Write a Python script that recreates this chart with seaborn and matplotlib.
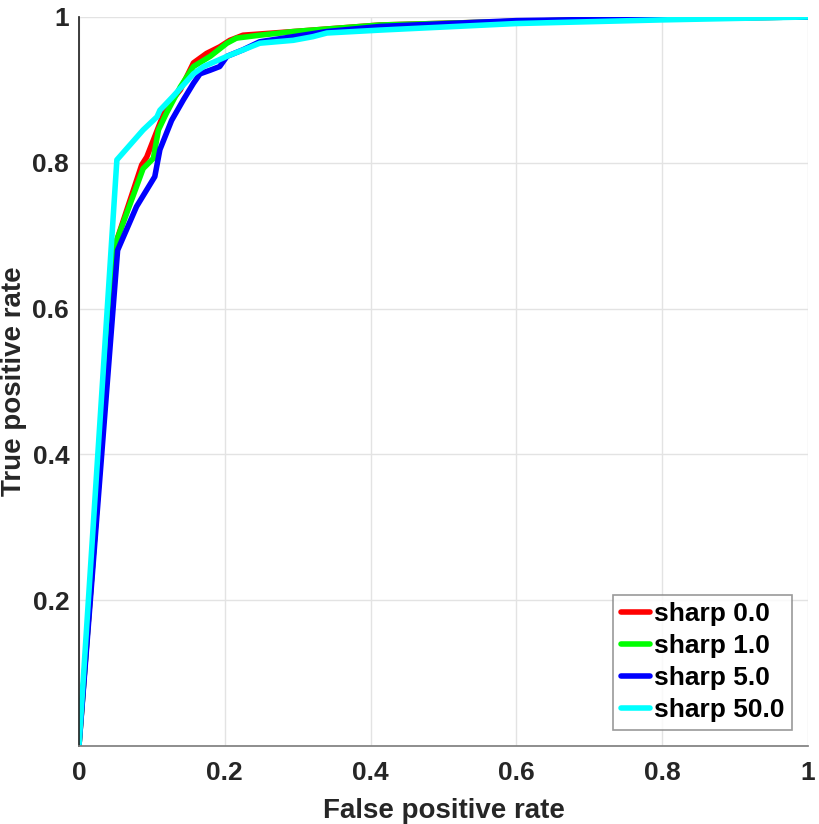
"""
ROC curves for different sharpness values
"""

import matplotlib
matplotlib.use("Agg")
import matplotlib.pyplot as plt
import pandas as pd
import seaborn as sns

# points
fpr_s0 = [0.0, 0.052, 0.086, 0.093, 0.111, 0.120, 0.139, 0.157, 0.175, 0.193, 0.207, 0.225,
          0.294, 0.413, 0.600, 0.800, 1.0]
tpr_s0 = [0.0, 0.694, 0.797, 0.808, 0.854, 0.877, 0.900, 0.937, 0.950, 0.959, 0.968, 0.975,
          0.980, 0.989, 0.994, 0.998, 1.0]

fpr_s1 = [0.0, 0.052, 0.088, 0.102, 0.109, 0.120, 0.139, 0.157, 0.180, 0.203, 0.216, 0.248,
          0.294, 0.413, 0.600, 0.800, 1.0]
tpr_s1 = [0.0, 0.694, 0.792, 0.806, 0.845, 0.868, 0.904, 0.932, 0.946, 0.964, 0.971, 0.975,
          0.980, 0.989, 0.994, 0.998, 1.0]

fpr_s5 = [0.0, 0.053, 0.079, 0.104, 0.111, 0.127, 0.143, 0.157, 0.166, 0.180, 0.193, 0.203,
          0.225, 0.248, 0.294, 0.340, 0.413, 0.600, 0.800, 1.0]
tpr_s5 = [0.0, 0.680, 0.740, 0.781, 0.818, 0.858, 0.886, 0.909, 0.922, 0.927, 0.932, 0.946,
          0.955, 0.966, 0.973, 0.980, 0.987, 0.995, 0.998, 1.0]

fpr_s50 = [0.0, 0.052, 0.088, 0.107, 0.111, 0.129, 0.157, 0.171, 0.203, 0.248, 0.294, 0.321,
           0.340, 0.413, 0.600, 0.800, 1.0]
tpr_s50 = [0.0, 0.804, 0.845, 0.863, 0.872, 0.891, 0.922, 0.932, 0.946, 0.964, 0.968, 0.973,
           0.978, 0.982, 0.991, 0.996, 1.0]

labels = ["sharp 0.0", "sharp 1.0", "sharp 5.0", "sharp 50.0"]
colours = ["#ff0000", "#00ff00", "#0000ff", "#00ffff"]

curves = [(fpr_s0, tpr_s0), (fpr_s1, tpr_s1), (fpr_s5, tpr_s5), (fpr_s50, tpr_s50)]
frames = []
for lab, (fx, ty) in zip(labels, curves):
    frames.append(pd.DataFrame({"fpr": fx, "tpr": ty, "model": lab}))
df = pd.concat(frames, ignore_index=True)

sns.set_theme(style="whitegrid")
plt.rcParams['font.family'] = ['Liberation Sans', 'DejaVu Sans']
plt.rcParams['font.weight'] = 'bold'

fig = plt.figure(figsize=(8.2, 8.24), dpi=100)
ax = fig.add_axes([0.0963, 0.0947, 0.8891, 0.8847])

sns.lineplot(data=df, x="fpr", y="tpr", hue="model", palette=colours, sort=False,
             estimator=None, linewidth=4, ax=ax)

ax.set_xlim(0, 1)
ax.set_ylim(0, 1)
ax.set_xticks([0, 0.2, 0.4, 0.6, 0.8, 1.0])
ax.set_xticklabels(["0", "0.2", "0.4", "0.6", "0.8", "1"])
ax.set_yticks([0.2, 0.4, 0.6, 0.8, 1.0])
ax.set_yticklabels(["0.2", "0.4", "0.6", "0.8", "1"])
ax.grid(True, color="#e3e3e3", linewidth=1)
ax.set_facecolor("white")
for side in ["top", "right"]:
    ax.spines[side].set_visible(False)
ax.spines["left"].set_color("#262626")
ax.spines["bottom"].set_color("#808080")
ax.tick_params(axis="both", labelsize=19, colors="#262626", direction="in", length=5, pad=7)
ax.tick_params(axis="x", pad=11)
for lab in ax.get_xticklabels() + ax.get_yticklabels():
    lab.set_fontweight("bold")

ax.set_xlabel("False positive rate", fontsize=20, fontweight="bold", color="#262626", labelpad=9)
ax.set_ylabel("True positive rate", fontsize=20, fontweight="bold", color="#262626", labelpad=4)

leg = ax.legend(loc="lower right", fontsize=19, frameon=True, fancybox=False, handlelength=1.1,
                handletextpad=0.15, borderpad=0.3, labelspacing=0.3, borderaxespad=0.6)
leg.get_frame().set_edgecolor("#808080")
leg.get_frame().set_linewidth(1.2)
for line in leg.get_lines():
    line.set_linewidth(4)
for t in leg.get_texts():
    t.set_fontweight("bold")
    t.set_color("black")

fig.savefig("out.png", dpi=100)
